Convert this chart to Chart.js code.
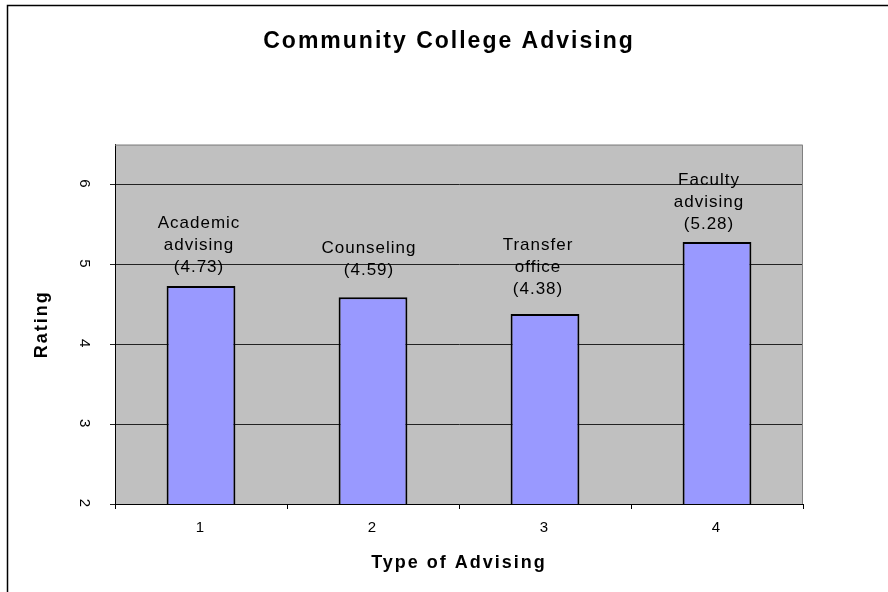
<!DOCTYPE html>
<html>
<head>
<meta charset="utf-8">
<script src="https://cdn.jsdelivr.net/npm/chart.js@4/dist/chart.umd.min.js"></script>
<style>
    html, body { margin: 0; padding: 0; background: #fff; overflow: hidden; }
    #wrap { width: 888px; height: 592px; position: relative; }
</style>
</head>
<body>
<div id="wrap"><canvas id="advising-chart" width="888" height="592"></canvas></div>
<script>
// Ratings per type of advising
const categories = ['1', '2', '3', '4'];
const advisingNames = [
    ['Academic', 'advising'],
    ['Counseling'],
    ['Transfer', 'office'],
    ['Faculty', 'advising']
];
const ratings = [4.73, 4.59, 4.38, 5.28];
const yTicks = [2, 3, 4, 5, 6];

const FONT = '"Liberation Sans", Arial, sans-serif';

// gray plot area, outer frame and global letter spacing
const framePlugin = {
    id: 'frame',
    beforeDraw(chart) {
        const { ctx, chartArea: a } = chart;
        ctx.save();
        ctx.fillStyle = '#C0C0C0';
        ctx.fillRect(a.left, a.top, a.right - a.left, a.bottom - a.top);
        ctx.strokeStyle = '#000';
        ctx.lineWidth = 1.5;
        ctx.beginPath();
        ctx.moveTo(7.5, 592);
        ctx.lineTo(7.5, 5.5);
        ctx.lineTo(888, 5.5);
        ctx.stroke();
        ctx.restore();
        ctx.letterSpacing = '2px';
    },
    afterDraw(chart) {
        const { ctx, chartArea: a } = chart;
        ctx.save();
        ctx.strokeStyle = '#808080';
        ctx.lineWidth = 1;
        ctx.beginPath();
        ctx.moveTo(a.left, a.top + 0.5);
        ctx.lineTo(a.right - 0.5, a.top + 0.5);
        ctx.lineTo(a.right - 0.5, a.bottom);
        ctx.stroke();
        ctx.restore();
    }
};

// name + rating above each bar
const labelGap = [19, 27, 25, 18];
const labelShift = [-2, -4, -7, -8];
const barLabelPlugin = {
    id: 'barLabels',
    afterDatasetsDraw(chart) {
        const ctx = chart.ctx;
        const meta = chart.getDatasetMeta(0);
        ctx.save();
        ctx.font = '17px ' + FONT;
        ctx.letterSpacing = '1px';
        ctx.fillStyle = '#000';
        ctx.textAlign = 'center';
        ctx.textBaseline = 'middle';
        meta.data.forEach((bar, i) => {
            const lines = advisingNames[i].concat('(' + ratings[i].toFixed(2) + ')');
            const last = bar.y - labelGap[i];
            lines.forEach((t, j) => {
                ctx.fillText(t, bar.x + labelShift[i], last - (lines.length - 1 - j) * 22);
            });
        });
        ctx.restore();
    }
};

new Chart(document.getElementById('advising-chart'), {
    type: 'bar',
    data: {
        labels: categories,
        datasets: [{
            data: ratings,
            backgroundColor: '#9999FF',
            borderColor: '#000',
            borderWidth: 2,
            borderSkipped: false,
            barPercentage: 0.4,
            categoryPercentage: 1
        }]
    },
    options: {
        responsive: false,
        animation: false,
        layout: { padding: { left: 10, right: 0, top: 0, bottom: 0 } },
        plugins: {
            legend: { display: false },
            tooltip: { enabled: false },
            title: {
                display: true,
                text: 'Community College Advising',
                color: '#000',
                font: { family: FONT, size: 23, weight: 'bold' },
                padding: { top: 28, bottom: 89 }
            }
        },
        scales: {
            x: {
                offset: true,
                grid: { offset: true, drawOnChartArea: false, tickLength: 5, color: '#000' },
                border: { color: '#000', width: 1 },
                ticks: { color: '#000', font: { family: FONT, size: 15 }, padding: 10, maxRotation: 0 },
                title: {
                    display: true,
                    text: 'Type of Advising',
                    color: '#000',
                    font: { family: FONT, size: 18, weight: 'bold' },
                    padding: { top: 0, bottom: 18 }
                },
                afterFit(scale) { scale.height = 88; }
            },
            y: {
                min: 2,
                max: 6.5,
                grid: { color: '#222', tickLength: 5 },
                border: { color: '#000', width: 1 },
                ticks: {
                    stepSize: 1,
                    color: '#000',
                    font: { family: FONT, size: 15 },
                    padding: 22,
                    crossAlign: 'center',
                    minRotation: -90,
                    maxRotation: -90
                },
                afterBuildTicks(scale) {
                    scale.ticks = yTicks.map(v => ({ value: v }));
                },
                title: {
                    display: true,
                    text: 'Rating',
                    color: '#000',
                    font: { family: FONT, size: 18, weight: 'bold' },
                    padding: { top: 21, bottom: 0 }
                },
                afterFit(scale) { scale.width = 105; }
            },
            // empty right-hand margin beside the plot
            margin: {
                type: 'linear',
                position: 'right',
                grid: { display: false },
                border: { display: false },
                ticks: { display: false },
                afterFit(scale) { scale.width = 85; }
            }
        }
    },
    plugins: [framePlugin, barLabelPlugin]
});
</script>
</body>
</html>
